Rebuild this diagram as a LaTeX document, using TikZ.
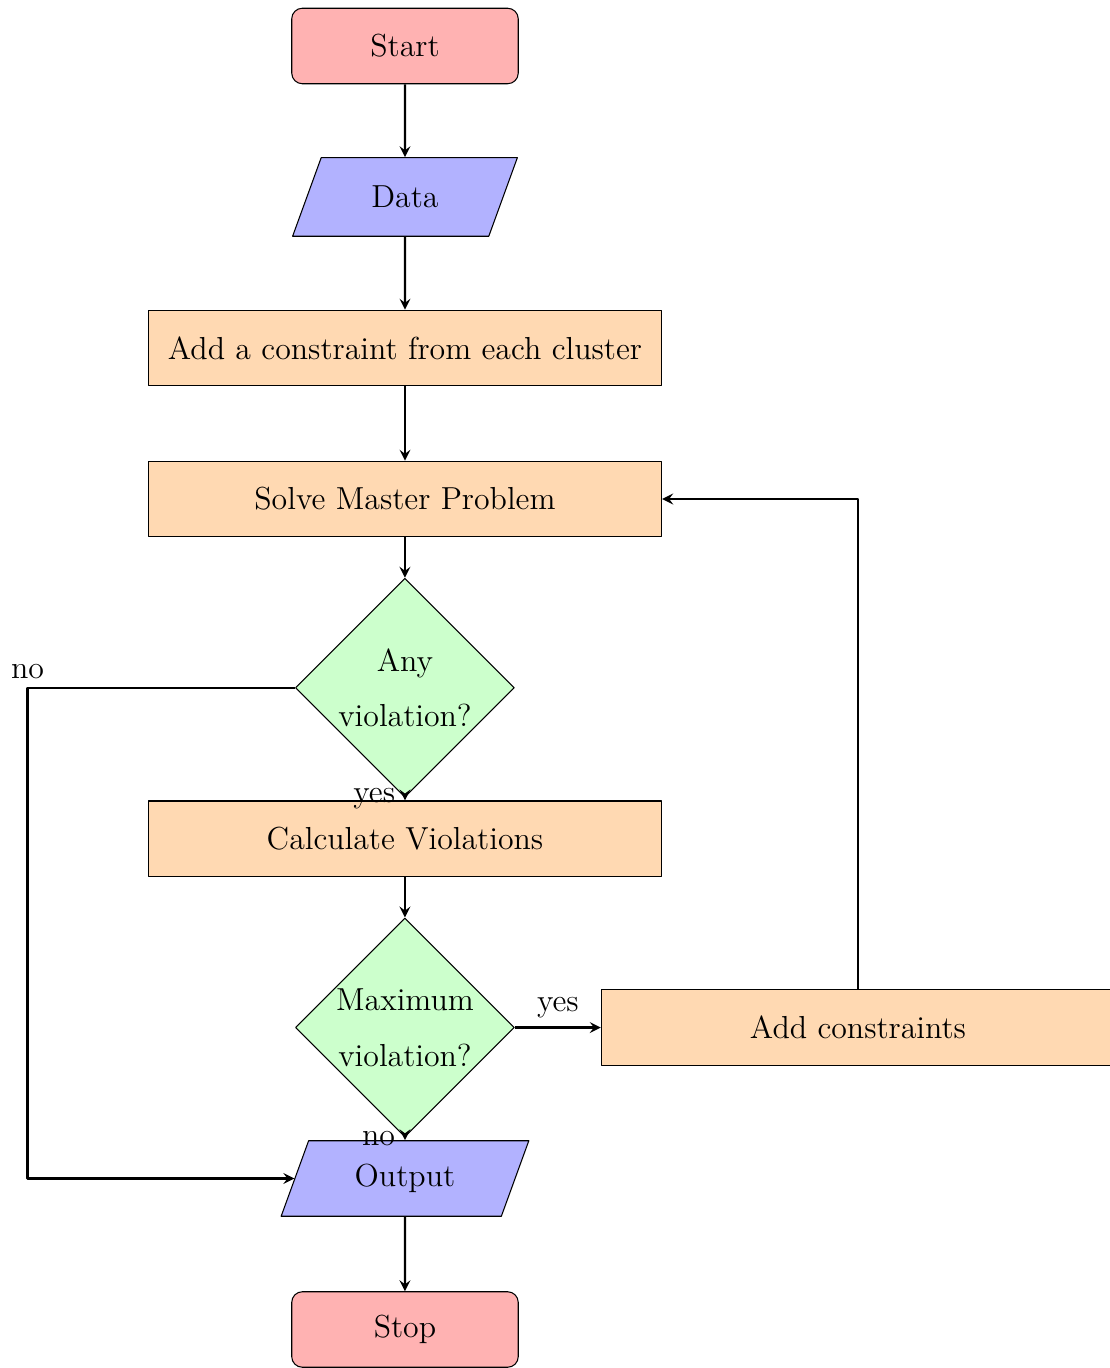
\documentclass[tikz,border=0pt]{standalone}
\usetikzlibrary{shapes.geometric}
\begin{document}
\begin{tikzpicture}[scale=1,>=stealth, font=\large, line join=round,
	startstop/.style={rectangle, rounded corners, minimum width=3cm, minimum height=1cm, text centered, draw=black, fill=red!30},
	io/.style={trapezium, trapezium left angle=70, trapezium right angle=110, minimum width=3cm, minimum height=1cm, text centered, draw=black, fill=blue!30},
	process/.style={rectangle, minimum width=6.8cm, minimum height=1cm, text centered, draw=black, fill=orange!30},
	decision/.style={diamond, aspect=1, minimum width=2.9cm, minimum height=2.9cm, inner sep=0pt, align=center, draw=black, fill=green!20},
	arrow/.style={thick,->,>=stealth}]
	\useasboundingbox (-5.364,-17.51) rectangle (9.325,0.609);
	\node[startstop] (start) at (0,0) {Start};
	\node[io] (data) at (0,-2) {Data};
	\node[process] (init) at (0,-4) {Add a constraint from each cluster};
	\node[process] (solve) at (0,-6) {Solve Master Problem};
	\node[decision] (anyviol) at (0,-8.5) {Any\\[7pt]violation?};
	\node[process] (calc) at (0,-10.5) {Calculate Violations};
	\node[decision] (maxviol) at (0,-13) {Maximum\\[7pt]violation?};
	\node[process] (addc) at (6,-13) {Add constraints};
	\node[io] (output) at (0,-15) {Output};
	\node[startstop] (stop) at (0,-17) {Stop};
	\coordinate (nocorner) at (-5,-8.5);
	\node[above] (nolabel) at (nocorner) {no};
	\draw[arrow] (start) -- (data);
	\draw[arrow] (data) -- (init);
	\draw[arrow] (init) -- (solve);
	\draw[arrow] (solve) -- (anyviol);
	\draw[arrow] (anyviol) -- node[left]{yes} (calc);
	\draw[arrow] (anyviol.west) -- (nocorner) |- (output);
	\draw[arrow] (calc) -- (maxviol);
	\draw[arrow] (maxviol) -- node[above]{yes} (addc);
	\draw[arrow] (addc) |- (solve);
	\draw[arrow] (maxviol) -- node[left]{no} (output);
	\draw[arrow] (output) -- (stop);
\end{tikzpicture}
\end{document}
